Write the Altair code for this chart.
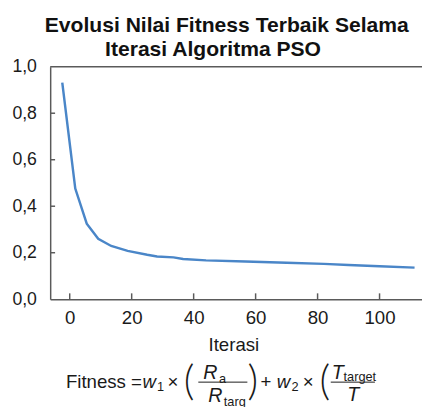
import altair as alt
import pandas as pd

# ---- data ----
iterasi = [-2.4, 1.8, 5.5, 9.2, 13.4, 18.7, 25.0, 28.2, 33.5, 36.6, 44.0, 56.7, 70.0, 82.0, 90.0, 100.0, 111.3]
fitness = [0.932, 0.476, 0.325, 0.260, 0.229, 0.208, 0.191, 0.184, 0.180, 0.173, 0.167, 0.162, 0.157, 0.152, 0.147, 0.142, 0.136]
x_ticks = [0, 20, 40, 60, 80, 100]
y_ticks = [0.0, 0.2, 0.4, 0.6, 0.8, 1.0]
title_line1 = "Evolusi Nilai Fitness Terbaik Selama"
title_line2 = "Iterasi Algoritma PSO"
x_title = "Iterasi"
formula_main = "Fitness\u00a0="
formula_w = "w"
formula_sub1 = "1"
formula_sub2 = "2"
formula_times = "\u00d7"
formula_plus = "+"
formula_R = "R"
formula_sub_a = "a"
formula_sub_targ = "targ"
formula_T = "T"
formula_sub_target = "target"

W, H = 379, 237
AX = "#5a5a5a"
FONT = "Liberation Sans"
LINE_COLOR = "#4a86c8"
TXT = "#1a1a1a"

df = pd.DataFrame({"iterasi": iterasi, "fitness": fitness})

xs = alt.Scale(domain=[-6.3, 113.7], nice=False, zero=False)
ys = alt.Scale(domain=[0, 1], nice=False)

x_axis = alt.Axis(values=x_ticks, ticks=False, grid=False, domainColor=AX, domainWidth=1.5,
                  labelFontSize=19, labelFont=FONT, labelColor=TXT, labelPadding=10, labelFlush=False,
                  title=x_title, titleFont=FONT, titleFontSize=19, titleFontWeight="normal",
                  titleColor=TXT, titleX=186.7, titleY=37, titleAnchor="middle", titleAlign="center")
y_axis = alt.Axis(values=y_ticks, ticks=False, grid=False, domainColor=AX, domainWidth=1.5,
                  labelFontSize=18, labelFont=FONT, labelColor=TXT, labelPadding=14, labelFlush=False,
                  labelExpr="replace(format(datum.value, '.1f'), '.', ',')", title=None)

line = alt.Chart(df).mark_line(color=LINE_COLOR, strokeWidth=2.5, clip=True).encode(
    x=alt.X("iterasi:Q", scale=xs, axis=x_axis),
    y=alt.Y("fitness:Q", scale=ys, axis=y_axis),
)

ytick_df = pd.DataFrame({"fitness": y_ticks[1:-1]})
yticks = alt.Chart(ytick_df).mark_rule(color=AX, strokeWidth=1.5).encode(
    y=alt.Y("fitness:Q", scale=ys, axis=y_axis), x=alt.value(0), x2=alt.value(5))

xtick_df = pd.DataFrame({"iterasi": x_ticks})
xticks = alt.Chart(xtick_df).mark_rule(color=AX, strokeWidth=1.5).encode(
    x=alt.X("iterasi:Q", scale=xs, axis=x_axis), y=alt.value(H - 6), y2=alt.value(H))

top_border = alt.Chart(pd.DataFrame({"a": [0]})).mark_rule(color=AX, strokeWidth=1.5).encode(
    x=alt.value(0), x2=alt.value(W), y=alt.value(0))


def txt(s, x, y, size=19, style="normal", align="left", baseline="alphabetic",
        font=FONT, weight="normal", color=TXT):
    return alt.Chart(pd.DataFrame({"t": [s]})).mark_text(
        font=font, fontSize=size, fontStyle=style, fontWeight=weight, align=align,
        baseline=baseline, color=color
    ).encode(text="t:N", x=alt.value(x), y=alt.value(y))


def bar(x1, x2, y):
    return alt.Chart(pd.DataFrame({"a": [0]})).mark_rule(color=TXT, strokeWidth=1).encode(
        x=alt.value(x1), x2=alt.value(x2), y=alt.value(y))


title = [
    txt(title_line1, 180, -35.5, size=21.5, align="center", weight="bold", color="#111111"),
    txt(title_line2, 166, -10.5, size=21.5, align="center", weight="bold", color="#111111"),
]

BASE = 327  # formula baseline (relative to plot top)
PAREN = dict(size=42, align="center", baseline="middle", font="Lato", weight=300)
formula = [
    txt(formula_main, 16, BASE),
    txt(formula_w, 94, BASE, style="italic"),
    txt(formula_sub1, 109, BASE + 4, size=13),
    txt(formula_times, 125, BASE, align="center"),
    txt("(", 141.5, 322, **PAREN),
    txt(formula_R, 156, 318, style="italic", size=20),
    txt(formula_sub_a, 172, 322, size=13),
    bar(151, 201, 321.5),
    txt(formula_R, 161, 342, style="italic", size=20),
    txt(formula_sub_targ, 177, 346, size=13),
    txt(")", 206.5, 322, **PAREN),
    txt(formula_plus, 220, BASE, align="center"),
    txt(formula_w, 231, BASE, style="italic"),
    txt(formula_sub2, 246, BASE + 4, size=13),
    txt(formula_times, 263, BASE, align="center"),
    txt("(", 280, 322, **PAREN),
    txt(formula_T, 287, 318, style="italic", size=20),
    txt(formula_sub_target, 299, 320, size=13),
    bar(286, 331, 321.5),
    txt(formula_T, 309, 341, style="italic", align="center", size=20),
]

chart = alt.layer(line, yticks, xticks, top_border, *title, *formula).properties(
    width=W, height=H,
    autosize=alt.AutoSizeParams(type="none"),
    padding={"left": 43, "top": 56, "right": 0, "bottom": 106},
).configure_view(stroke=None)

chart.save("out.html", embed_options={"renderer": "svg", "actions": False})
